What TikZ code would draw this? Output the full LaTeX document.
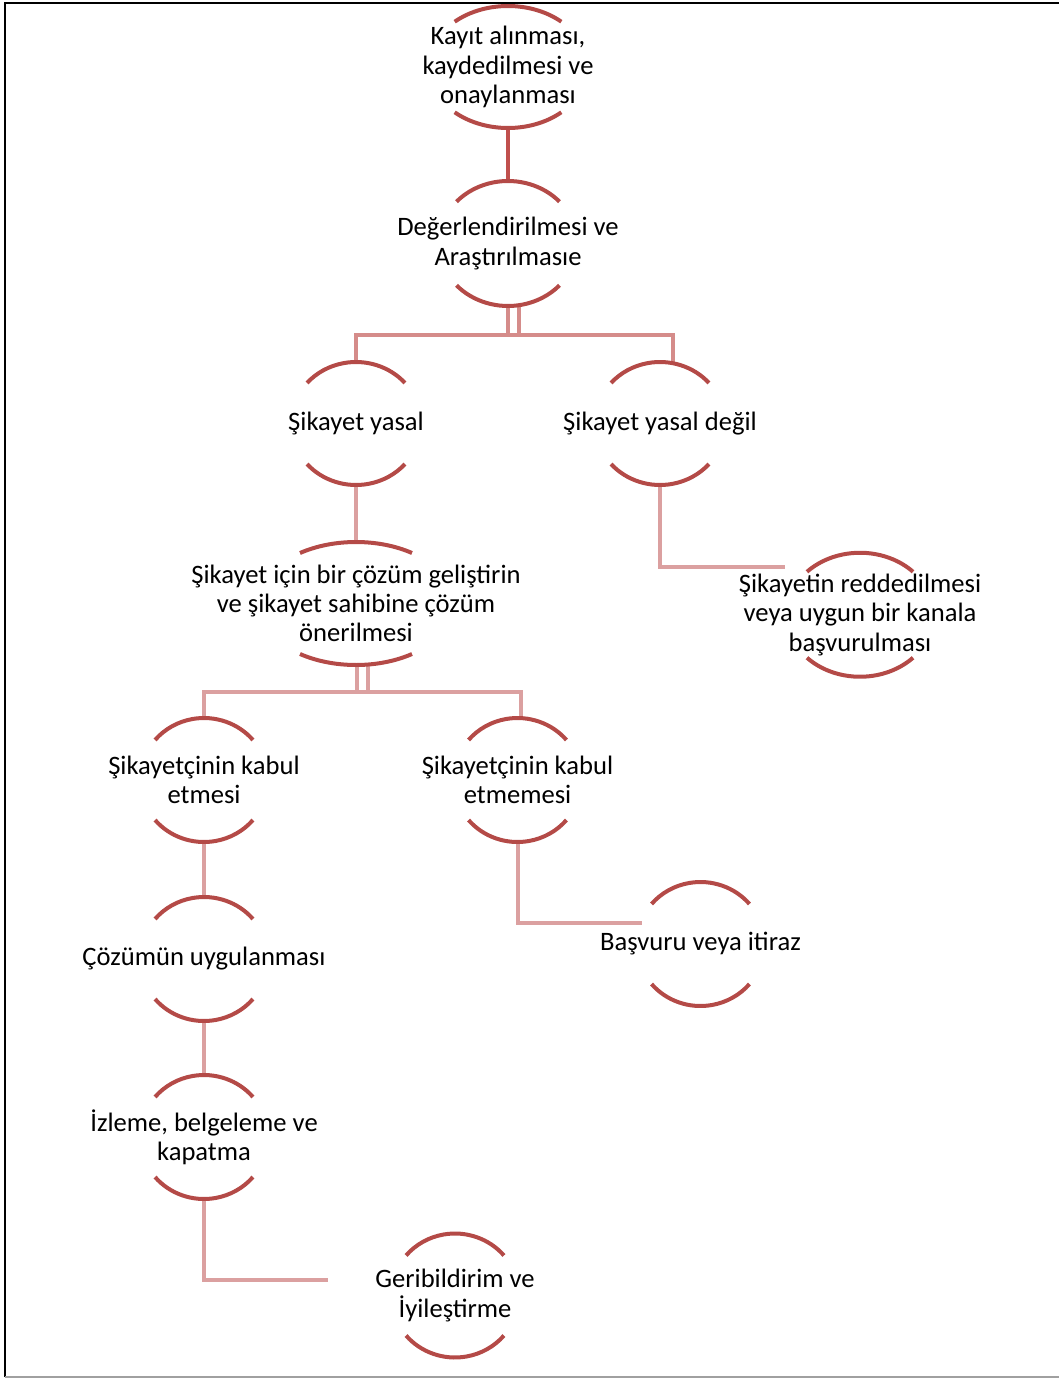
\documentclass[tikz,border=0pt]{standalone}
\usepackage{fontspec}
\setmainfont{Carlito}
\definecolor{arcred}{RGB}{180,74,71}
\definecolor{linkred}{RGB}{192,80,77}
\definecolor{pinkA}{RGB}{213,140,138}
\definecolor{pinkB}{RGB}{219,160,160}
\definecolor{frameg}{RGB}{160,160,160}
\tikzset{
  lbl/.style={font=\fontsize{26.6}{29.3}\selectfont, align=center, inner sep=0pt, text=black},
  arcline/.style={draw=arcred, line width=4pt},
  linkA/.style={draw=linkred, line width=4pt},
  linkB/.style={draw=pinkA, line width=4pt},
  linkC/.style={draw=pinkB, line width=4pt},
}
\newcommand\ArcNodeCoords[4]{% name, cx, cy, b
  \coordinate (#1-t) at (#2,{#3-#4});
  \coordinate (#1-b) at (#2,{#3+#4});
}
\newcommand\ArcNodeDraw[7]{% name, cx, cy, a, b, t, text
  \node[lbl] (#1) at (#2,#3) {#7};
  \draw[arcline] ({#2+#4*cos(#6)},{#3-#5*sin(#6)}) arc[start angle=#6, end angle={180-#6}, x radius=#4pt, y radius=#5pt];
  \draw[arcline] ({#2-#4*cos(#6)},{#3+#5*sin(#6)}) arc[start angle={180+#6}, end angle={360-#6}, x radius=#4pt, y radius=#5pt];
}
\begin{document}
\begin{tikzpicture}[x=1pt,y=-1pt]
\useasboundingbox (0,0) rectangle (1059,1378);
% frame
\draw[black, line width=1.5pt] (5,1377) -- (5,3) -- (1059,3);
\draw[frameg, line width=1.5pt] (5,1377) -- (1059,1377);
% coordinates
\ArcNodeCoords{n1}{508}{67}{61}
\ArcNodeCoords{n2}{508}{243.5}{62.5}
\ArcNodeCoords{n3}{356}{423.5}{61.5}
\ArcNodeCoords{n4}{660}{423.5}{61.5}
\ArcNodeCoords{n5}{356}{603.5}{61.5}
\ArcNodeCoords{n6}{860}{614.75}{62}
\ArcNodeCoords{n7}{204}{780}{62}
\ArcNodeCoords{n8}{517.5}{780}{62}
\ArcNodeCoords{n9}{204}{959}{62}
\ArcNodeCoords{n10}{700.5}{944}{62}
\ArcNodeCoords{n11}{204}{1137}{62}
\ArcNodeCoords{n12}{455}{1295.5}{62}
\coordinate (e4) at (785,567);
\coordinate (e8) at (642,923);
\coordinate (e11) at (328,1280);
% connectors
\draw[linkA] (n1-b) -- (n2-t);
\draw[linkB] ([xshift=11pt]n2-b) -- ++(0,29) -| (n3-t);
\draw[linkB] (n2-b) -- ++(0,29) -| ([xshift=13pt,yshift=-1pt]n4-t);
\draw[linkC] (n3-b) -- (n5-t);
\draw[linkC] (n4-b) |- (e4);
\draw[linkC] ([xshift=12pt]n5-b) -- ++(0,27) -| (n7-t);
\draw[linkC] ([xshift=1pt]n5-b) -- ++(0,27) -| ([xshift=3.5pt,yshift=-0.5pt]n8-t);
\draw[linkC] (n7-b) -- (n9-t);
\draw[linkC] (n8-b) |- (e8);
\draw[linkC] (n9-b) -- (n11-t);
\draw[linkC] (n11-b) |- (e11);
% nodes with arcs
\ArcNodeDraw{n1}{508}{67}{79.6}{61}{47.95}{Kayıt alınması,\\kaydedilmesi ve\\onaylanması}
\ArcNodeDraw{n2}{508}{243.5}{69.3}{62.5}{42}{Değerlendirilmesi ve\\Araştırılmasıe}
\ArcNodeDraw{n3}{356}{423.5}{65.1}{61.5}{41.2}{Şikayet yasal}
\ArcNodeDraw{n4}{660}{423.5}{65.1}{61.5}{41.2}{Şikayet yasal değil}
\ArcNodeDraw{n5}{356}{603.5}{98.1}{61.5}{55.2}{Şikayet için bir çözüm geliştirin\\ve şikayet sahibine çözüm\\önerilmesi}
\ArcNodeDraw{n6}{860}{614.75}{73.6}{62}{43.9}{Şikayetin reddedilmesi\\veya uygun bir kanala\\başvurulması}
\ArcNodeDraw{n7}{204}{780}{64.1}{62}{40.2}{Şikayetçinin kabul\\etmesi}
\ArcNodeDraw{n8}{517.5}{780}{64.1}{62}{40.2}{Şikayetçinin kabul\\etmemesi}
\ArcNodeDraw{n9}{204}{959}{64.1}{62}{40.2}{Çözümün uygulanması}
\ArcNodeDraw{n10}{700.5}{944}{64.1}{62}{40.2}{Başvuru veya itiraz}
\ArcNodeDraw{n11}{204}{1137}{64.1}{62}{40.2}{İzleme, belgeleme ve\\kapatma}
\ArcNodeDraw{n12}{455}{1295.5}{64.1}{62}{40.2}{Geribildirim ve\\İyileştirme}
\end{tikzpicture}
\end{document}
